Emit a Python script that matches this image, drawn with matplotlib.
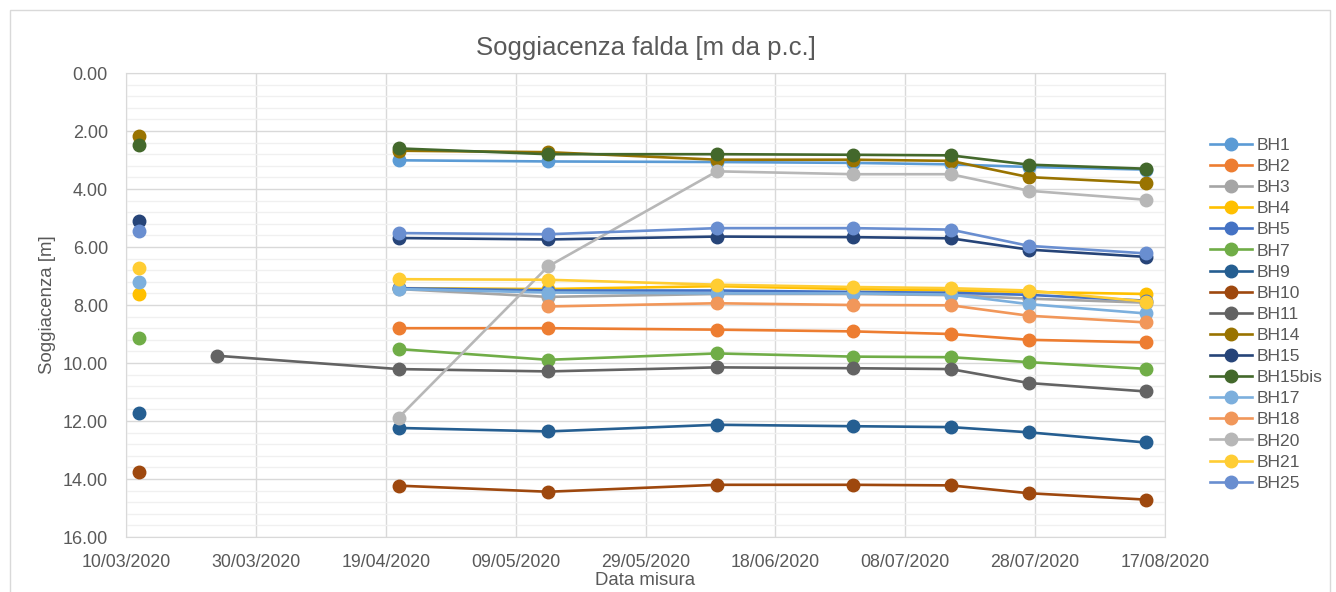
import matplotlib
matplotlib.use('Agg')
import matplotlib.pyplot as plt
import matplotlib.dates as mdates
import numpy as np
import pandas as pd

# date di misura
dates = pd.to_datetime(['2020-03-12', '2020-03-24', '2020-04-21', '2020-05-14',
                        '2020-06-09', '2020-06-30', '2020-07-15', '2020-07-27',
                        '2020-08-14'])
nan = np.nan

# soggiacenza [m da p.c.] per ogni piezometro
BH1 = [nan, nan, 3.01, 3.05, 3.07, 3.10, 3.15, 3.24, 3.33]
BH2 = [nan, nan, 8.80, 8.80, 8.85, 8.91, 9.00, 9.20, 9.29]
BH3 = [nan, nan, 7.45, 7.72, 7.62, 7.62, 7.66, 7.78, 7.92]
BH4 = [7.63, nan, 7.42, 7.45, 7.35, 7.45, 7.50, 7.55, 7.62]
BH5 = [nan, nan, 7.42, 7.50, 7.50, 7.55, 7.58, 7.65, 7.85]
BH7 = [9.14, nan, 9.52, 9.89, 9.67, 9.78, 9.80, 9.97, 10.20]
BH9 = [11.72, nan, 12.24, 12.36, 12.13, 12.18, 12.21, 12.39, 12.74]
BH10 = [13.76, nan, 14.23, 14.44, 14.20, 14.20, 14.22, 14.49, 14.71]
BH11 = [nan, 9.75, 10.21, 10.29, 10.15, 10.18, 10.21, 10.69, 10.98]
BH14 = [2.16, nan, 2.68, 2.73, 2.99, 2.99, 3.03, 3.59, 3.79]
BH15 = [5.12, nan, 5.69, 5.74, 5.64, 5.66, 5.70, 6.09, 6.34]
BH15bis = [2.47, nan, 2.60, 2.80, 2.80, 2.82, 2.84, 3.16, 3.30]
BH17 = [7.22, nan, 7.45, 7.57, 7.60, 7.60, 7.64, 7.97, 8.29]
BH18 = [nan, nan, nan, 8.05, 7.94, 8.00, 8.01, 8.37, 8.60]
BH20 = [nan, nan, 11.88, 6.67, 3.39, 3.49, 3.49, 4.06, 4.37]
BH21 = [6.74, nan, 7.11, 7.13, 7.30, 7.38, 7.42, 7.50, 7.88]
BH25 = [5.44, nan, 5.52, 5.56, 5.35, 5.35, 5.40, 5.96, 6.22]

names = ['BH1', 'BH2', 'BH3', 'BH4', 'BH5', 'BH7', 'BH9', 'BH10', 'BH11',
         'BH14', 'BH15', 'BH15bis', 'BH17', 'BH18', 'BH20', 'BH21', 'BH25']
series = [BH1, BH2, BH3, BH4, BH5, BH7, BH9, BH10, BH11,
          BH14, BH15, BH15bis, BH17, BH18, BH20, BH21, BH25]
colors = ['#5B9BD5', '#ED7D31', '#A5A5A5', '#FFC000', '#4472C4', '#70AD47',
          '#255E91', '#9E480E', '#636363', '#997300', '#264478', '#43682B',
          '#7CAFDD', '#F1975A', '#B7B7B7', '#FFCD33', '#698ED0']

plt.rcParams['font.family'] = ['Liberation Sans', 'DejaVu Sans']
txt = '#595959'

fig = plt.figure(figsize=(13.36, 5.92), dpi=100)
ax = fig.add_axes([126 / 1336, 55 / 592, 1039 / 1336, 464 / 592])

# cornice esterna
fig.patches.append(plt.Rectangle((10 / 1336, -0.02), 1320 / 1336, (592 - 10) / 592 + 0.02,
                                 transform=fig.transFigure, fill=False,
                                 edgecolor='#D9D9D9', linewidth=1))

for name, vals, c in zip(names, series, colors):
    ax.plot(dates, vals, color=c, linewidth=1.9, marker='o', markersize=9,
            label=name)

ax.set_xlim(pd.Timestamp('2020-03-10'), pd.Timestamp('2020-08-17'))
ax.set_ylim(16, 0)
ax.set_xticks(pd.date_range('2020-03-10', '2020-08-17', freq='20D'))
ax.xaxis.set_major_formatter(mdates.DateFormatter('%d/%m/%Y'))
ax.set_yticks(np.arange(0, 16.1, 2))
ax.set_yticks(np.arange(0, 16.1, 0.4), minor=True)
ax.yaxis.set_major_formatter(matplotlib.ticker.FormatStrFormatter('%.2f'))

ax.grid(True, which='major', color='#D9D9D9', linewidth=1)
ax.grid(True, which='minor', axis='y', color='#F0F0F0', linewidth=1)
ax.set_axisbelow(True)
ax.tick_params(which='both', length=0, colors=txt)
ax.tick_params(axis='x', pad=12, labelsize=12.8)
ax.tick_params(axis='y', pad=13, labelsize=13)
for s in ax.spines.values():
    s.set_color('#D9D9D9')

ax.set_title('Soggiacenza falda [m da p.c.]', color=txt, fontsize=18.5, pad=13)
ax.set_xlabel('Data misura', color=txt, fontsize=13.4, labelpad=1)
ax.set_ylabel('Soggiacenza [m]', color=txt, fontsize=13.4, labelpad=5)

leg = ax.legend(loc='upper left', bbox_to_anchor=(1194 / 1336, 1 - 122 / 592),
                bbox_transform=fig.transFigure, frameon=False, fontsize=12.6,
                labelspacing=0.335, handlelength=2.4, handletextpad=0.3)
for t in leg.get_texts():
    t.set_color(txt)

fig.savefig('out.png', dpi=100)
